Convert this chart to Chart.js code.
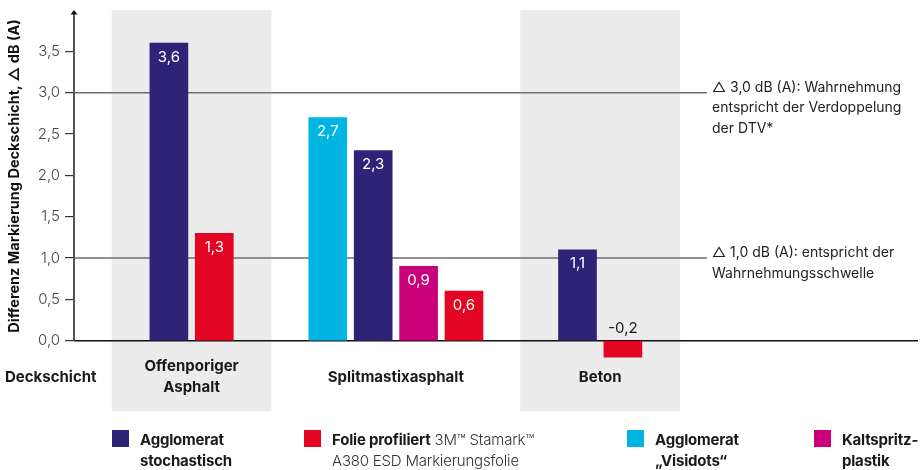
<!DOCTYPE html>
<html>
<head>
<meta charset="utf-8">
<script src="https://cdn.jsdelivr.net/npm/chart.js@4/dist/chart.umd.min.js"></script>
<style>
  body { margin: 0; background: #fff; font-family: Inter, "Open Sans", sans-serif; }
  #wrap { position: relative; width: 920px; height: 470px; }
  canvas { position: absolute; left: 0; top: 0; }
  .leg { position: absolute; top: 430px; font-size: 15px; line-height: 20.5px; color: #1a1a1a; letter-spacing: -0.2px; }
  .leg b { font-weight: 700; }
  .leg span.light { font-weight: 300; color: #333; }
  .sw { position: absolute; width: 17px; height: 17px; top: 430px; }
</style>
</head>
<body>
<div id="wrap">
  <canvas id="myChart" width="920" height="470"></canvas>
  <div class="sw" style="left:112px;background:#2e2376"></div>
  <div class="leg" style="left:140px;top:430px"><b>Agglomerat<br>stochastisch</b></div>
  <div class="sw" style="left:304px;background:#e30521"></div>
  <div class="leg" style="left:332px;top:430px"><b>Folie profiliert</b> <span class="light">3M™ Stamark™<br>A380 ESD Markierungsfolie</span></div>
  <div class="sw" style="left:627px;background:#00b5e2"></div>
  <div class="leg" style="left:655px;top:430px"><b>Agglomerat<br>„Visidots“</b></div>
  <div class="sw" style="left:814px;background:#c9007a"></div>
  <div class="leg" style="left:842px;top:430px"><b>Kaltspritz-<br>plastik</b></div>
</div>
<script>
// Deckschichten (groups)
const groups = [["Offenporiger", "Asphalt"], ["Splitmastixasphalt"], ["Beton"]];

// values per Deckschicht, null = not measured
const visidots = [null, 2.7, null];
const stochastisch = [3.6, 2.3, 1.1];
const kaltspritz = [null, 0.9, null];
const folie = [1.3, 0.6, -0.2];

const yTicks = [0, 0.5, 1, 1.5, 2, 2.5, 3, 3.5];
const refLines = [3.0, 1.0];
const refTexts = [
  ["\u25B3 3,0 dB (A): Wahrnehmung", "entspricht der Verdoppelung", "der DTV*"],
  ["\u25B3 1,0 dB (A): entspricht der", "Wahrnehmungsschwelle"]
];

// layout (slot units on the x scale)
const groupCenters = [0.5, 5, 9.5];
const bandHalf = 1.76;
const xMin = -2.09, xMax = 16.5, refEnd = 11.85;

const seriesOrder = [
  { label: "Agglomerat \u201eVisidots\u201c", values: visidots, color: "#00b5e2" },
  { label: "Agglomerat stochastisch", values: stochastisch, color: "#2e2376" },
  { label: "Kaltspritzplastik", values: kaltspritz, color: "#c9007a" },
  { label: "Folie profiliert", values: folie, color: "#e30521" }
];

// place bars centered in their group
const pts = seriesOrder.map(() => []);
groups.forEach((g, gi) => {
  const present = seriesOrder.map((s, si) => si).filter(si => seriesOrder[si].values[gi] !== null);
  present.forEach((si, k) => {
    pts[si].push({ x: groupCenters[gi] + k - (present.length - 1) / 2, y: seriesOrder[si].values[gi] });
  });
});

const fmt = v => v.toFixed(1).replace(".", ",");

const datasets = seriesOrder.map((s, si) => ({
  type: "bar",
  label: s.label,
  data: pts[si],
  backgroundColor: s.color,
  barThickness: 38,
  grouped: false,
  order: 0
}));

refLines.forEach(v => {
  datasets.push({
    type: "line", data: [{ x: xMin, y: v }, { x: refEnd, y: v }],
    borderColor: "#6e6e6e", borderWidth: 1.5, pointRadius: 0, order: 2, clip: false
  });
});
// zero line
datasets.push({
  type: "line", data: [{ x: xMin, y: 0 }, { x: xMax, y: 0 }],
  borderColor: "#111", borderWidth: 1.5, pointRadius: 0, order: 1, clip: false
});

const decor = {
  id: "decor",
  beforeDatasetsDraw(chart) {
    const ctx = chart.ctx, x = chart.scales.x, a = chart.chartArea;
    ctx.save();
    ctx.fillStyle = "#ececec";
    [0, 2].forEach(gi => {
      const l = x.getPixelForValue(groupCenters[gi] - bandHalf);
      const r = x.getPixelForValue(groupCenters[gi] + bandHalf);
      ctx.fillRect(l, a.top, r - l, a.bottom - a.top);
    });
    ctx.restore();
  },
  afterDatasetsDraw(chart) {
    const ctx = chart.ctx, x = chart.scales.x, y = chart.scales.y, a = chart.chartArea;
    ctx.save();
    // y axis line from 0 up, with arrow head
    const ax = Math.round(a.left);
    const y0px = y.getPixelForValue(0);
    ctx.fillStyle = "#555";
    ctx.fillRect(ax - 1, a.top + 3, 2, y0px - a.top - 3);
    ctx.fillStyle = "#111";
    ctx.beginPath();
    ctx.moveTo(ax, a.top);
    ctx.lineTo(ax - 3.5, a.top + 4.5);
    ctx.lineTo(ax + 3.5, a.top + 4.5);
    ctx.closePath();
    ctx.fill();
    // value labels
    ctx.font = "15px Inter";
    ctx.textAlign = "center";
    ctx.textBaseline = "middle";
    seriesOrder.forEach((s, si) => {
      const meta = chart.getDatasetMeta(si);
      meta.data.forEach((bar, i) => {
        const v = pts[si][i].y;
        if (v >= 0) {
          ctx.fillStyle = "#fff";
          ctx.fillText(fmt(v), bar.x, bar.y + 14);
        } else {
          ctx.fillStyle = "#1a1a1a";
          ctx.fillText(fmt(v), bar.x, y0px - 12);
        }
      });
    });
    // group labels
    ctx.font = "bold 15px Inter";
    ctx.fillStyle = "#1a1a1a";
    groups.forEach((g, gi) => {
      const cx = x.getPixelForValue(groupCenters[gi]);
      const yy = 377 - (g.length - 1) * 10.5;
      g.forEach((line, k) => ctx.fillText(line, cx, yy + k * 21));
    });
    ctx.textAlign = "left";
    ctx.fillText("Deckschicht", 5, 377);
    // reference texts
    ctx.font = "14px Inter";
    ctx.fillStyle = "#222";
    refLines.forEach((v, i) => {
      const py = y.getPixelForValue(v) - 5;
      refTexts[i].forEach((t, k) => ctx.fillText(t, 712, py + k * 20.5));
    });
    // y title
    ctx.translate(15, 176);
    ctx.rotate(-Math.PI / 2);
    ctx.textAlign = "center";
    ctx.font = "bold 14.5px Inter";
    ctx.fillStyle = "#111";
    ctx.fillText("Differenz Markierung Deckschicht, \u25B3 dB (A)", 0, 0);
    ctx.restore();
  }
};

new Chart(document.getElementById("myChart"), {
  type: "bar",
  data: { datasets },
  options: {
    responsive: false,
    animation: false,
    layout: { padding: { top: 10, right: 2, bottom: 59, left: 0 } },
    plugins: { legend: { display: false }, tooltip: { enabled: false } },
    scales: {
      x: { type: "linear", min: xMin, max: xMax, offset: false, display: false },
      y: {
        min: -0.85, max: 4.0,
        border: { display: false },
        grid: { drawOnChartArea: false, tickLength: 9, color: "#333", lineWidth: 1.2 },
        afterBuildTicks: s => { s.ticks = yTicks.map(v => ({ value: v })); },
        afterFit: s => { s.width = 74; s.paddingTop = 0; s.paddingBottom = 0; },
        ticks: {
          padding: 5, color: "#444",
          font: { family: "Inter", size: 15, weight: 300 },
          callback: v => fmt(v)
        }
      }
    }
  },
  plugins: [decor]
});
</script>
</body>
</html>
